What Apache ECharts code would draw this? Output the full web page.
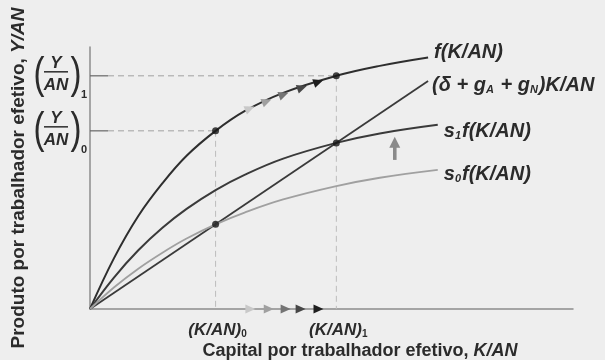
<!DOCTYPE html>
<html><head><meta charset="utf-8">
<script src="https://cdn.jsdelivr.net/npm/echarts@6/dist/echarts.min.js"></script>
<style>html,body{margin:0;padding:0;background:#eeeeee}#c{width:605px;height:360px}</style>
</head><body><div id="c"></div>
<script>
// ---- data (abstract units) ----
const kGrid    = [0, 0.5, 1, 1.5, 2, 2.6, 3.2, 4, 5.1, 6, 7.0];
const fValues  = [0, 1.95, 3.55, 4.8, 5.85, 6.8, 7.55, 8.25, 8.9, 9.28, 9.6];
const sGrid    = [0, 0.5, 1, 1.5, 2, 2.6, 3.2, 4, 5.1, 6, 7.2];
const s1Values = [0, 1.21, 2.24, 3.1, 3.82, 4.54, 5.12, 5.74, 6.34, 6.7, 7.03];
const s0Values = [0, 0.83, 1.54, 2.15, 2.69, 3.23, 3.68, 4.18, 4.69, 5.01, 5.31];
const breakEvenX = [0, 7.0];
const breakEvenY = [0, 8.7];
const kSteady = [2.6, 5.1];        // (K/AN)0, (K/AN)1
const ySteady = [6.8, 8.9];        // (Y/AN)0, (Y/AN)1
const investSteady = [3.23, 6.34]; // s0 f at K0, s1 f at K1
const curveArrowX = [3.3, 3.65, 4.0, 4.38, 4.72];
const curveArrowY = [7.65, 7.92, 8.18, 8.44, 8.66];
const axisArrowX  = [3.31, 3.69, 4.04, 4.35, 4.72];
const shiftArrowX = 6.31, shiftArrowFrom = 5.69, shiftArrowTo = 6.53;
const subLabels = ['0', '1'];
const arrowShades = ['#c8c8c8', '#a0a0a0', '#747474', '#474747', '#1e1e1e'];

const zip = (a, b) => a.map((v, i) => [v, b[i]]);
const FONT = 'Liberation Sans, Arial, sans-serif';
const INK = '#2b2b2b';

function tri(cx, cy, ang, len, half, color) {
  const dx = Math.cos(ang), dy = Math.sin(ang), nx = -dy, ny = dx;
  const tx = cx + dx * len * 0.55, ty = cy + dy * len * 0.55;
  const bx = cx - dx * len * 0.45, by = cy - dy * len * 0.45;
  return { type: 'polygon', shape: { points: [[tx, ty], [bx + nx * half, by + ny * half], [bx - nx * half, by - ny * half]] }, style: { fill: color } };
}

const labelRich = {
  i: { fontSize: 20, fontWeight: 'bold', fontStyle: 'italic', fontFamily: FONT, color: INK, lineHeight: 24, verticalAlign: 'bottom' },
  sub: { fontSize: 11, fontWeight: 'bold', fontStyle: 'italic', fontFamily: FONT, color: INK, lineHeight: 5, verticalAlign: 'bottom', padding: [0, 1, 0, 0] }
};

const chart = echarts.init(document.getElementById('c'), null, { renderer: 'canvas' });
chart.setOption({
  backgroundColor: '#eeeeee',
  animation: false,
  grid: { left: 90, right: 32, top: 47, bottom: 51, outerBoundsMode: 'none', containLabel: false },
  xAxis: {
    type: 'value', min: 0, max: 10,
    axisLine: { lineStyle: { color: '#8c8c8c', width: 1.5 } },
    axisTick: { show: false }, axisLabel: { show: false }, splitLine: { show: false },
    name: 'Capital por trabalhador efetivo, {i|K/AN}',
    nameLocation: 'middle', nameGap: 33,
    nameTextStyle: { fontSize: 18, fontWeight: 'bold', fontFamily: FONT, color: INK, padding: [0, 0, 0, 57],
      rich: { i: { fontSize: 18, fontWeight: 'bold', fontStyle: 'italic', fontFamily: FONT, color: INK } } }
  },
  yAxis: {
    type: 'value', min: 0, max: 10,
    axisLine: { lineStyle: { color: '#8c8c8c', width: 1.5 } },
    axisTick: { show: false }, axisLabel: { show: false }, splitLine: { show: false },
    name: 'Produto por trabalhador efetivo, {i|Y/AN}',
    nameLocation: 'middle', nameGap: 62, nameRotate: 90,
    nameTextStyle: { fontSize: 19, fontWeight: 'bold', fontFamily: FONT, color: INK,
      rich: { i: { fontSize: 19, fontWeight: 'bold', fontStyle: 'italic', fontFamily: FONT, color: INK } } }
  },
  series: [
    { // guide lines
      type: 'custom', z: 1, silent: true,
      data: zip(kSteady, ySteady),
      renderItem: (params, api) => {
        const p = api.coord([api.value(0), api.value(1)]);
        const a = api.coord([0, api.value(1)]);
        const b = api.coord([api.value(0), 0]);
        return { type: 'group', children: [
          { type: 'line', shape: { x1: a[0], y1: a[1], x2: a[0] + 18, y2: a[1] }, style: { stroke: '#666', lineWidth: 1.2 } },
          { type: 'line', shape: { x1: a[0] + 18, y1: a[1], x2: p[0], y2: p[1] }, style: { stroke: '#a0a0a0', lineWidth: 1, lineDash: [6, 4] } },
          { type: 'line', shape: { x1: p[0], y1: p[1], x2: b[0], y2: b[1] }, style: { stroke: '#bcbcbc', lineWidth: 1, lineDash: [6, 4] } }
        ] };
      }
    },
    {
      type: 'line', name: 'f', data: zip(kGrid, fValues), smooth: 0.4, symbol: 'none', z: 3,
      lineStyle: { color: '#2e2e2e', width: 2 },
      endLabel: { show: true, formatter: '{i|f(K/AN)}', distance: 6, offset: [0, -7], rich: labelRich }
    },
    {
      type: 'line', name: 'breakeven', data: zip(breakEvenX, breakEvenY), symbol: 'none', z: 3,
      lineStyle: { color: '#3a3a3a', width: 1.8 },
      endLabel: { show: true, formatter: '{i|(δ + g}{sub|A}{i| + g}{sub|N}{i|)K/AN}', distance: 4, offset: [0, 2], rich: labelRich }
    },
    {
      type: 'line', name: 's1f', data: zip(sGrid, s1Values), smooth: 0.4, symbol: 'none', z: 3,
      lineStyle: { color: '#3a3a3a', width: 2 },
      endLabel: { show: true, formatter: '{i|s}{sub|1}{i|f(K/AN)}', distance: 6, offset: [0, 5], rich: labelRich }
    },
    {
      type: 'line', name: 's0f', data: zip(sGrid, s0Values), smooth: 0.4, symbol: 'none', z: 3,
      lineStyle: { color: '#a0a0a0', width: 1.8 },
      endLabel: { show: true, formatter: '{i|s}{sub|0}{i|f(K/AN)}', distance: 6, offset: [0, 3], rich: labelRich }
    },
    {
      type: 'scatter', z: 6, symbol: 'circle', symbolSize: 7, itemStyle: { color: '#151515' },
      data: [[kSteady[0], ySteady[0]], [kSteady[0], investSteady[0]], [kSteady[1], ySteady[1]], [kSteady[1], investSteady[1]]]
    },
    { // arrows along f
      type: 'custom', z: 5, silent: true,
      data: zip(curveArrowX, curveArrowY),
      renderItem: (params, api) => {
        const i = params.dataIndex;
        const p = api.coord([api.value(0), api.value(1)]);
        const j = i < curveArrowX.length - 1 ? i + 1 : i - 1;
        const q = api.coord([curveArrowX[j], curveArrowY[j]]);
        let ang = Math.atan2(q[1] - p[1], q[0] - p[0]);
        if (j < i) ang += Math.PI;
        return tri(p[0], p[1], ang, 10, 4.5, arrowShades[i]);
      }
    },
    { // arrows along x axis
      type: 'custom', z: 5, silent: true,
      data: axisArrowX.map(x => [x, 0]),
      renderItem: (params, api) => {
        const p = api.coord([api.value(0), 0]);
        return tri(p[0], p[1], 0, 10, 4.5, arrowShades[params.dataIndex]);
      }
    },
    { // upward shift arrow
      type: 'custom', z: 5, silent: true,
      data: [[shiftArrowX, shiftArrowFrom, shiftArrowTo]],
      renderItem: (params, api) => {
        const a = api.coord([api.value(0), api.value(1)]);
        const b = api.coord([api.value(0), api.value(2)]);
        return { type: 'group', children: [
          { type: 'rect', shape: { x: a[0] - 1.8, y: b[1] + 9, width: 3.6, height: a[1] - b[1] - 9 }, style: { fill: '#8a8a8a' } },
          tri(b[0], b[1] + 5, -Math.PI / 2, 11, 5.5, '#8a8a8a')
        ] };
      }
    },
    { // (Y/AN) labels on the vertical axis
      type: 'custom', z: 5, silent: true,
      data: ySteady.map(y => [0, y]),
      renderItem: (params, api) => {
        const p = api.coord([0, api.value(1)]);
        const cx = p[0] - 34, L = p[1];
        const txt = (t, x, y, size, weight, style) => ({ type: 'text', x, y,
          style: { text: t, fontSize: size, fontWeight: weight, fontStyle: style, fontFamily: FONT, fill: INK, align: 'center', verticalAlign: 'middle' } });
        const lp = txt('(', cx - 17, L, 44, 'normal', 'normal'); lp.scaleX = 0.75;
        const rp = txt(')', cx + 20, L, 44, 'normal', 'normal'); rp.scaleX = 0.75;
        return { type: 'group', children: [
          lp, rp,
          txt('Y', cx, L - 13, 17, 'bold', 'italic'),
          { type: 'line', shape: { x1: cx - 12, y1: L - 4, x2: cx + 12, y2: L - 4 }, style: { stroke: INK, lineWidth: 1.5 } },
          txt('AN', cx, L + 9, 17, 'bold', 'italic'),
          txt(subLabels[params.dataIndex], cx + 28, L + 19, 11, 'bold', 'normal')
        ] };
      }
    },
    { // (K/AN) labels under the horizontal axis
      type: 'custom', z: 5, silent: true,
      data: kSteady.map(k => [k, 0]),
      renderItem: (params, api) => {
        const p = api.coord([api.value(0), 0]);
        return { type: 'text', x: p[0] + 2, y: p[1] + 20,
          style: { text: '{i|(K/AN)}{s|' + subLabels[params.dataIndex] + '}', align: 'center', verticalAlign: 'middle',
            rich: { i: { fontSize: 17, fontWeight: 'bold', fontStyle: 'italic', fontFamily: FONT, fill: INK, lineHeight: 20, verticalAlign: 'bottom' },
                    s: { fontSize: 10, fontWeight: 'bold', fontFamily: FONT, fill: INK, lineHeight: 5, verticalAlign: 'bottom' } } } };
      }
    }
  ]
});
</script></body></html>
